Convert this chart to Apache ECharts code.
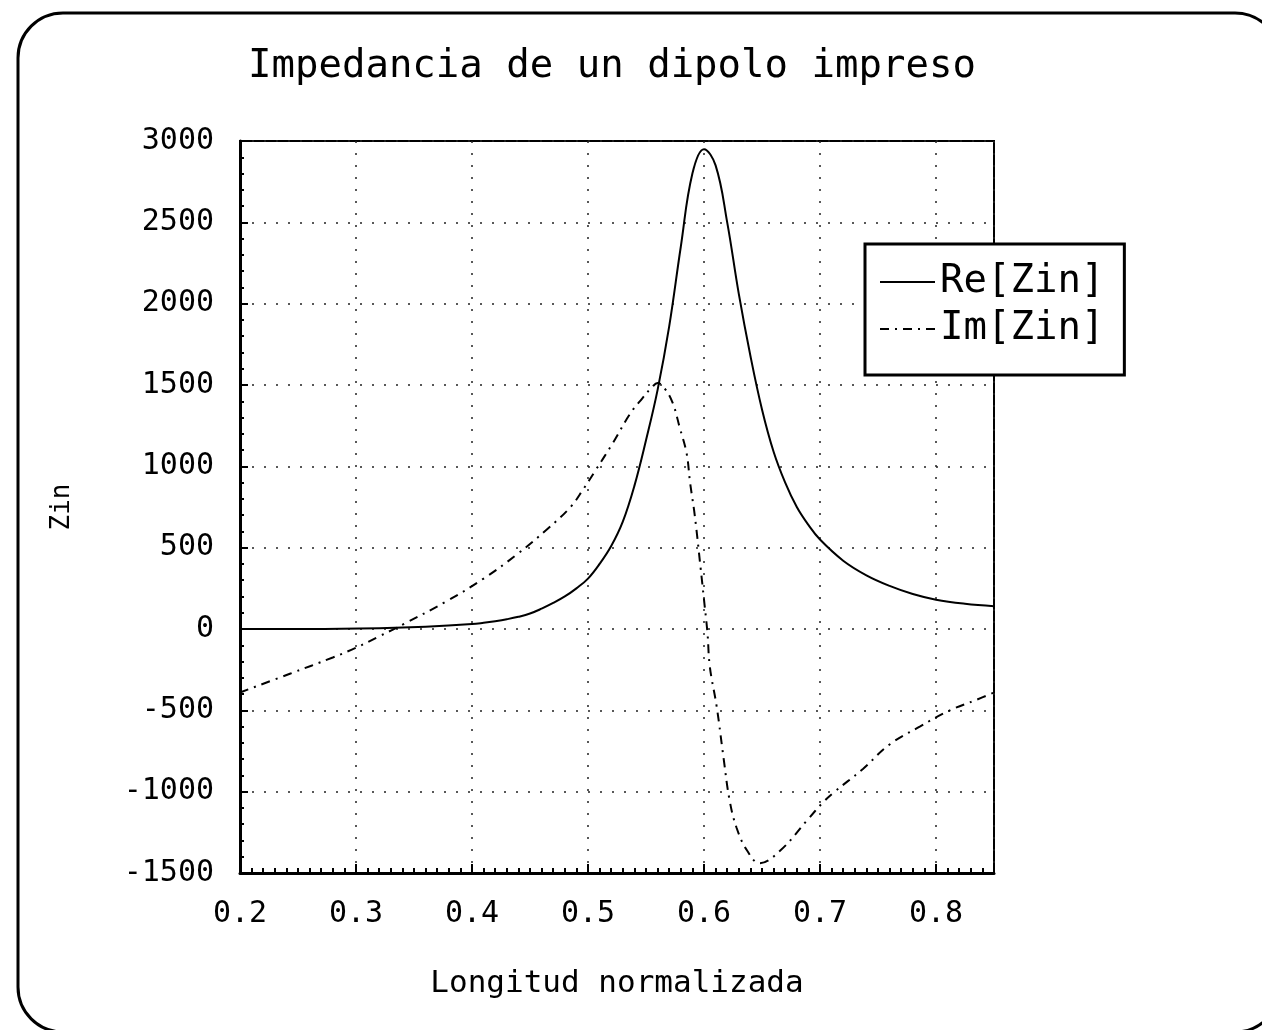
<!DOCTYPE html>
<html>
<head>
<meta charset="utf-8">
<script src="https://cdn.jsdelivr.net/npm/echarts@6/dist/echarts.min.js"></script>
<style>
html,body{margin:0;padding:0;background:#fff;}
#chart{width:1262px;height:1030px;}
</style>
</head>
<body>
<div id="chart"></div>
<script>
const titleText = 'Impedancia de un dipolo impreso';
const xAxisName = 'Longitud normalizada';
const yAxisName = 'Zin';
const seriesNames = ['Re[Zin]', 'Im[Zin]'];

const reX = [0.20, 0.26, 0.32, 0.36, 0.40, 0.41, 0.42, 0.43, 0.44, 0.45, 0.46, 0.47, 0.48, 0.49, 0.50, 0.51, 0.52, 0.53, 0.54, 0.55, 0.56, 0.57, 0.58, 0.59, 0.60, 0.61, 0.62, 0.63, 0.64, 0.65, 0.66, 0.67, 0.68, 0.69, 0.70, 0.72, 0.74, 0.76, 0.78, 0.80, 0.825, 0.85];
const reY = [0, 0, 5, 14, 30, 38, 48, 60, 75, 95, 125, 160, 200, 250, 310, 400, 510, 660, 880, 1160, 1470, 1860, 2350, 2800, 2950, 2850, 2500, 2060, 1680, 1350, 1090, 900, 750, 640, 550, 420, 330, 265, 215, 180, 155, 140];

const imX = [0.20, 0.243, 0.280, 0.300, 0.320, 0.341, 0.378, 0.410, 0.439, 0.465, 0.485, 0.496, 0.506, 0.522, 0.536, 0.547, 0.555, 0.560, 0.566, 0.573, 0.579, 0.585, 0.588, 0.592, 0.597, 0.600, 0.603, 0.605, 0.611, 0.617, 0.622, 0.628, 0.637, 0.648, 0.666, 0.689, 0.702, 0.711, 0.737, 0.760, 0.786, 0.812, 0.835, 0.85];
const imY = [-390, -275, -175, -115, -45, 30, 170, 310, 460, 615, 750, 860, 970, 1150, 1320, 1420, 1485, 1512, 1480, 1390, 1240, 1080, 900, 700, 380, 180, -25, -230, -480, -800, -1050, -1220, -1360, -1440, -1360, -1175, -1070, -1010, -860, -710, -600, -500, -435, -390];

const font = 'DejaVu Sans Mono';
const chart = echarts.init(document.getElementById('chart'));
chart.setOption({
  animation: false,
  backgroundColor: '#fff',
  graphic: [{
    type: 'rect',
    shape: {x: 18, y: 13, width: 1262, height: 1019, r: 45},
    style: {fill: 'none', stroke: '#000', lineWidth: 3},
    silent: true, z: 0
  }],
  title: {
    text: titleText,
    left: 243, top: 42,
    textStyle: {fontFamily: font, fontSize: 39, fontWeight: 'normal', color: '#000'}
  },
  legend: {
    orient: 'vertical',
    left: 865, top: 244,
    data: seriesNames,
    itemWidth: 55, itemHeight: 20, itemGap: 7, itemTextGap: 8,
    padding: [18, 20, 26, 14],
    backgroundColor: '#fff',
    borderColor: '#000', borderWidth: 3, borderRadius: 0,
    itemStyle: {color: 'transparent', borderWidth: 0, opacity: 0},
    textStyle: {fontFamily: font, fontSize: 39, color: '#000', lineHeight: 40},
    z: 10
  },
  grid: {
    left: 240, right: 268, top: 141, bottom: 157,
    show: true, borderColor: '#000', borderWidth: 2, backgroundColor: 'transparent'
  },
  xAxis: {
    type: 'value', min: 0.2, max: 0.85, interval: 0.1,
    name: xAxisName, nameLocation: 'middle', nameGap: 95,
    nameTextStyle: {fontFamily: font, fontSize: 31, color: '#000'},
    axisLine: {show: true, onZero: false, lineStyle: {color: '#000', width: 3}},
    axisTick: {show: true, inside: true, length: 9, lineStyle: {color: '#000', width: 2}},
    minorTick: {show: true, splitNumber: 10, length: 5, lineStyle: {color: '#000', width: 2}},
    axisLabel: {
      margin: 26, fontFamily: font, fontSize: 30, color: '#000', showMaxLabel: false,
      formatter: v => v.toFixed(1)
    },
    splitLine: {show: true, lineStyle: {color: '#222', width: 1.5, type: [2, 10]}}
  },
  yAxis: {
    type: 'value', min: -1500, max: 3000, interval: 500,
    name: yAxisName, nameLocation: 'middle', nameGap: 165, nameRotate: 90,
    nameTextStyle: {fontFamily: font, fontSize: 26, color: '#000'},
    axisLine: {show: true, onZero: false, lineStyle: {color: '#000', width: 3}},
    axisTick: {show: true, inside: true, length: 8, lineStyle: {color: '#000', width: 2}},
    minorTick: {show: true, splitNumber: 5, length: 4, lineStyle: {color: '#000', width: 2}},
    axisLabel: {margin: 26, fontFamily: font, fontSize: 30, color: '#000', formatter: v => String(v)},
    splitLine: {show: true, lineStyle: {color: '#222', width: 1.5, type: [2, 10]}}
  },
  series: [
    {
      name: seriesNames[0], type: 'line', symbol: 'none', smooth: 0.4,
      data: reX.map((x, i) => [x, reY[i]]),
      lineStyle: {color: '#000', width: 2, type: 'solid'},
      itemStyle: {color: '#000'}
    },
    {
      name: seriesNames[1], type: 'line', symbol: 'none', smooth: 0.4,
      data: imX.map((x, i) => [x, imY[i]]),
      lineStyle: {color: '#000', width: 2, type: [9, 6, 2, 6]},
      itemStyle: {color: '#000'}
    }
  ]
});
</script>
</body>
</html>
